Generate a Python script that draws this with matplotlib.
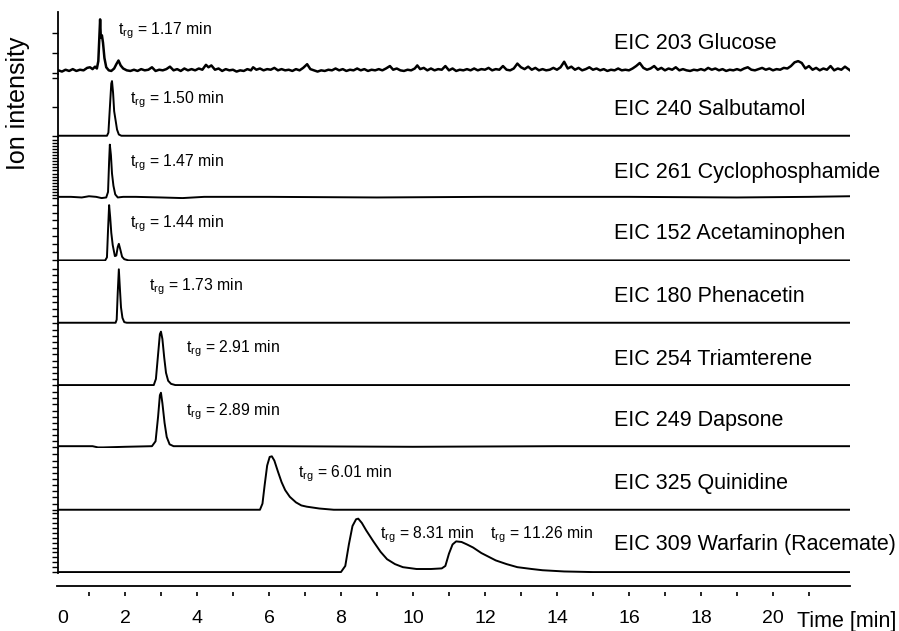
import numpy as np
import matplotlib.pyplot as plt

plt.rcParams['font.family'] = ['Liberation Sans', 'DejaVu Sans']
plt.rcParams['mathtext.fontset'] = 'custom'
plt.rcParams['mathtext.rm'] = 'Liberation Sans'
plt.rcParams['mathtext.it'] = 'Liberation Sans'

# EIC labels (top to bottom) and retention times shown in the plot
eic_labels = ['EIC 203 Glucose', 'EIC 240 Salbutamol', 'EIC 261 Cyclophosphamide',
              'EIC 152 Acetaminophen', 'EIC 180 Phenacetin', 'EIC 254 Triamterene',
              'EIC 249 Dapsone', 'EIC 325 Quinidine', 'EIC 309 Warfarin (Racemate)']
trg_values = [['1.17'], ['1.50'], ['1.47'], ['1.44'], ['1.73'], ['2.91'], ['2.89'],
              ['6.01'], ['8.31', '11.26']]

# traces: (time [min], relative intensity)
glucose = [
    (0.15, 0.05), (0.25, 0.03), (0.35, 0.06), (0.45, 0.04), (0.55, 0.07), (0.65, 0.04),
    (0.75, 0.06), (0.85, 0.05), (0.95, 0.09), (1.03, 0.10), (1.10, 0.07), (1.17, 0.11),
    (1.22, 0.08), (1.26, 0.20), (1.29, 0.60), (1.31, 0.88), (1.33, 0.58), (1.36, 0.62),
    (1.39, 0.50), (1.43, 0.25), (1.48, 0.10), (1.55, 0.05), (1.62, 0.04), (1.70, 0.08),
    (1.76, 0.15), (1.82, 0.21), (1.88, 0.13), (1.95, 0.08), (2.05, 0.05), (2.15, 0.04),
    (2.25, 0.06), (2.35, 0.04), (2.45, 0.07), (2.55, 0.05), (2.65, 0.06), (2.75, 0.10),
    (2.85, 0.04), (2.95, 0.06), (3.05, 0.05), (3.15, 0.07), (3.25, 0.11), (3.35, 0.05),
    (3.45, 0.07), (3.55, 0.04), (3.65, 0.08), (3.75, 0.05), (3.85, 0.07), (3.95, 0.05),
    (4.05, 0.08), (4.15, 0.06), (4.25, 0.14), (4.32, 0.10), (4.40, 0.13), (4.50, 0.06),
    (4.60, 0.08), (4.70, 0.04), (4.80, 0.07), (4.90, 0.05), (5.00, 0.06), (5.10, 0.03),
    (5.20, 0.05), (5.30, 0.04), (5.40, 0.07), (5.50, 0.05), (5.56, 0.10), (5.65, 0.06),
    (5.75, 0.08), (5.85, 0.05), (5.95, 0.07), (6.05, 0.06), (6.15, 0.09), (6.25, 0.05),
    (6.35, 0.07), (6.45, 0.05), (6.55, 0.06), (6.65, 0.04), (6.75, 0.07), (6.85, 0.05),
    (6.95, 0.09), (7.06, 0.15), (7.15, 0.07), (7.25, 0.05), (7.35, 0.03), (7.45, 0.05),
    (7.55, 0.04), (7.65, 0.06), (7.75, 0.05), (7.85, 0.08), (7.95, 0.05), (8.05, 0.07),
    (8.15, 0.04), (8.25, 0.06), (8.35, 0.05), (8.45, 0.08), (8.55, 0.05), (8.65, 0.07),
    (8.75, 0.04), (8.85, 0.06), (8.95, 0.05), (9.05, 0.07), (9.15, 0.05), (9.25, 0.08),
    (9.36, 0.12), (9.45, 0.06), (9.55, 0.08), (9.65, 0.05), (9.75, 0.04), (9.85, 0.06),
    (9.95, 0.05), (10.05, 0.08), (10.12, 0.13), (10.20, 0.07), (10.30, 0.09), (10.40, 0.05),
    (10.50, 0.08), (10.60, 0.05), (10.70, 0.07), (10.80, 0.06), (10.90, 0.12), (11.00, 0.05),
    (11.10, 0.08), (11.20, 0.04), (11.30, 0.06), (11.40, 0.05), (11.50, 0.07), (11.60, 0.05),
    (11.70, 0.08), (11.80, 0.05), (11.90, 0.07), (12.00, 0.06), (12.10, 0.09), (12.20, 0.05),
    (12.30, 0.07), (12.40, 0.06), (12.50, 0.12), (12.60, 0.06), (12.70, 0.05), (12.80, 0.08),
    (12.90, 0.16), (13.00, 0.10), (13.10, 0.07), (13.20, 0.11), (13.30, 0.06), (13.40, 0.09),
    (13.50, 0.05), (13.60, 0.07), (13.70, 0.05), (13.80, 0.06), (13.90, 0.09), (14.00, 0.06),
    (14.10, 0.10), (14.20, 0.19), (14.30, 0.08), (14.40, 0.11), (14.50, 0.06), (14.60, 0.09),
    (14.70, 0.05), (14.80, 0.07), (14.90, 0.10), (15.00, 0.06), (15.10, 0.08), (15.20, 0.05),
    (15.30, 0.07), (15.40, 0.04), (15.50, 0.06), (15.60, 0.05), (15.70, 0.08), (15.80, 0.05),
    (15.90, 0.06), (16.00, 0.05), (16.10, 0.08), (16.20, 0.12), (16.30, 0.17), (16.40, 0.09),
    (16.50, 0.06), (16.60, 0.08), (16.70, 0.12), (16.80, 0.06), (16.90, 0.09), (17.00, 0.05),
    (17.10, 0.08), (17.20, 0.06), (17.30, 0.10), (17.40, 0.05), (17.50, 0.07), (17.60, 0.05),
    (17.70, 0.04), (17.80, 0.06), (17.90, 0.05), (18.00, 0.07), (18.10, 0.05), (18.20, 0.09),
    (18.30, 0.06), (18.40, 0.08), (18.50, 0.05), (18.60, 0.07), (18.70, 0.04), (18.80, 0.06),
    (18.90, 0.05), (19.00, 0.07), (19.10, 0.05), (19.20, 0.08), (19.30, 0.10), (19.40, 0.06),
    (19.50, 0.05), (19.60, 0.07), (19.70, 0.09), (19.80, 0.06), (19.90, 0.08), (20.00, 0.05),
    (20.10, 0.07), (20.20, 0.06), (20.30, 0.09), (20.40, 0.08), (20.50, 0.12), (20.60, 0.18),
    (20.70, 0.20), (20.80, 0.17), (20.90, 0.08), (21.00, 0.12), (21.10, 0.06), (21.20, 0.09),
    (21.30, 0.05), (21.40, 0.08), (21.50, 0.06), (21.60, 0.12), (21.70, 0.05), (21.80, 0.08),
    (21.90, 0.06), (22.00, 0.11), (22.14, 0.05)]

salbutamol = [(0.14, 0.0), (1.50, 0.0), (1.54, 0.05), (1.58, 0.45), (1.62, 0.85), (1.64, 0.89),
              (1.67, 0.70), (1.70, 0.40), (1.74, 0.25), (1.78, 0.10), (1.83, 0.02), (1.90, 0.0),
              (22.14, 0.0)]

cyclophosphamide = [(0.14, 0.02), (0.5, 0.02), (0.8, 0.01), (1.0, 0.03), (1.2, 0.02), (1.35, 0.0),
                    (1.48, 0.01), (1.53, 0.10), (1.56, 0.60), (1.58, 0.87), (1.61, 0.70),
                    (1.64, 0.40), (1.68, 0.20), (1.73, 0.06), (1.80, 0.01), (1.95, 0.02),
                    (2.3, 0.02), (3.0, 0.01), (3.6, 0.0), (4.2, 0.02), (6.0, 0.02), (9.0, 0.01),
                    (12.0, 0.02), (16.0, 0.02), (19.0, 0.01), (21.0, 0.02), (22.14, 0.03)]

acetaminophen = [(0.14, 0.0), (1.45, 0.0), (1.50, 0.05), (1.53, 0.50), (1.56, 0.90), (1.59, 0.70),
                 (1.62, 0.45), (1.66, 0.25), (1.72, 0.07), (1.76, 0.08), (1.80, 0.22), (1.83, 0.27),
                 (1.87, 0.18), (1.92, 0.06), (1.98, 0.02), (2.10, 0.0), (22.14, 0.0)]

phenacetin = [(0.14, 0.0), (1.74, 0.0), (1.77, 0.05), (1.80, 0.50), (1.83, 0.87), (1.86, 0.55),
              (1.89, 0.25), (1.93, 0.08), (1.98, 0.01), (2.05, 0.0), (22.14, 0.0)]

triamterene = [(0.14, 0.0), (2.80, 0.0), (2.86, 0.10), (2.92, 0.50), (2.97, 0.83), (3.00, 0.87),
               (3.04, 0.75), (3.09, 0.45), (3.14, 0.20), (3.20, 0.07), (3.28, 0.02), (3.40, 0.0),
               (22.14, 0.0)]

dapsone = [(0.14, 0.02), (1.1, 0.02), (1.25, 0.0), (1.4, 0.0), (2.0, 0.01), (2.75, 0.02),
           (2.85, 0.10), (2.92, 0.50), (2.97, 0.85), (3.00, 0.89), (3.04, 0.72), (3.10, 0.40),
           (3.16, 0.17), (3.24, 0.05), (3.35, 0.02), (6.0, 0.02), (10.0, 0.01), (14.0, 0.02),
           (18.0, 0.02), (22.14, 0.02)]

quinidine = [(0.14, 0.0), (5.75, 0.0), (5.82, 0.10), (5.88, 0.40), (5.95, 0.72), (6.02, 0.86),
             (6.08, 0.87), (6.15, 0.80), (6.25, 0.62), (6.35, 0.45), (6.45, 0.32), (6.58, 0.21),
             (6.75, 0.12), (6.90, 0.07), (7.05, 0.05), (7.40, 0.02), (7.80, 0.0), (22.14, 0.0)]

warfarin = [(0.14, 0.0), (8.00, 0.0), (8.12, 0.10), (8.22, 0.45), (8.32, 0.75), (8.42, 0.86),
            (8.48, 0.87), (8.58, 0.80), (8.70, 0.68), (8.90, 0.50), (9.10, 0.33), (9.28, 0.21),
            (9.50, 0.13), (9.72, 0.08), (10.10, 0.05), (10.50, 0.05), (10.80, 0.06), (10.90, 0.10),
            (11.00, 0.30), (11.10, 0.45), (11.20, 0.50), (11.35, 0.49), (11.50, 0.45), (11.67, 0.40),
            (11.90, 0.31), (12.10, 0.25), (12.30, 0.19), (12.60, 0.13), (12.90, 0.08), (13.30, 0.05),
            (13.60, 0.03), (14.20, 0.01), (15.00, 0.0), (22.14, 0.0)]

traces = [glucose, salbutamol, cyclophosphamide, acetaminophen, phenacetin,
          triamterene, dapsone, quinidine, warfarin]

# layout (pixels of the 899x631 figure)
W, H = 899, 631
left_px, right_px = 58, 850
top_px, bottom_px = 12, 573
xmin, xmax = 0.14, 22.14
panel_h = (bottom_px - top_px) / len(traces)

tick_step = [0.33, 0.47, 0.05, 0.13, 0.11, 0.10, 0.10, 0.10, 0.08]
label_y = [0.50, 0.44, 0.43, 0.45, 0.44, 0.43, 0.44, 0.44, 0.45]
trg_x = [[1.81], [2.14], [2.14], [2.14], [2.67], [3.69], [3.69], [6.81], [9.08, 12.14]]
trg_y = [0.65, 0.53, 0.53, 0.55, 0.53, 0.54, 0.53, 0.54, 0.56]

fig = plt.figure(figsize=(W / 100, H / 100), dpi=100)

for i, tr in enumerate(traces):
    t, v = np.array(tr).T
    y0 = top_px + (i + 1) * panel_h
    ax = fig.add_axes([left_px / W, 1 - y0 / H, (right_px - left_px) / W, panel_h / H])
    ax.plot(t, v, color='black', lw=1.8 if i == 0 else 1.4, solid_joinstyle='round')
    ax.set_xlim(xmin, xmax)
    ax.set_ylim(-0.015, 1.0)
    for s in ['top', 'right', 'bottom']:
        ax.spines[s].set_visible(False)
    ax.spines['left'].set_linewidth(1.3)
    ax.set_xticks([])
    ax.set_yticks(np.arange(0, 0.99, tick_step[i]))
    ax.tick_params(axis='y', direction='out', length=4, width=1.0, labelleft=False)
    ax.patch.set_alpha(0)

    ax.text(0.702, label_y[i], eic_labels[i], transform=ax.transAxes,
            fontsize=15.5, va='center', ha='left')
    for xv, val in zip(trg_x[i], trg_values[i]):
        ax.text(xv, trg_y[i], r'$\mathregular{t_{rg}}$ = ' + val + ' min',
                transform=ax.get_xaxis_transform(), fontsize=11.3, va='baseline', ha='left')

# separate time axis under the traces
axb = fig.add_axes([(left_px - 1) / W, 1 - 592 / H, (right_px - left_px + 1) / W, 6 / H])
axb.set_xlim(xmin - 1 / 36, xmax)
for s in ['left', 'right', 'bottom']:
    axb.spines[s].set_visible(False)
axb.spines['top'].set_linewidth(1.3)
axb.set_yticks([])
major = [0.28] + list(range(2, 21, 2))
axb.set_xticks(major)
axb.set_xticklabels(['0'] + [str(m) for m in range(2, 21, 2)])
axb.set_xticks(list(range(1, 22, 2)), minor=True)
axb.xaxis.get_major_ticks()[0].tick1line.set_visible(False)
axb.tick_params(axis='x', which='both', direction='out', length=3, width=1.2,
                labelsize=14, pad=10)
axb.patch.set_alpha(0)

fig.text(797 / W, 1 - 622 / H, 'Time [min]', fontsize=15.5, va='center', ha='left')
fig.text(18 / W, 1 - 103 / H, 'Ion intensity', fontsize=18, rotation=90,
         va='center', ha='center')

fig.savefig('out.png', dpi=100)
